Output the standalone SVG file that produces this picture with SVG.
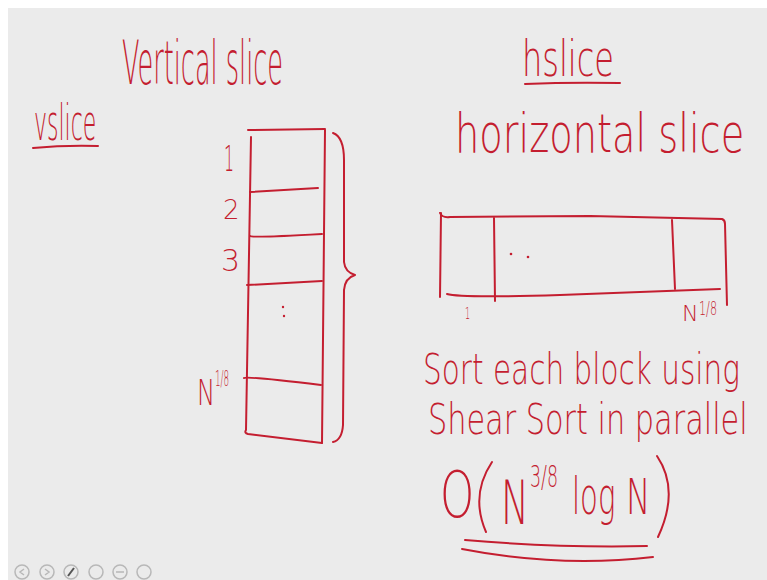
<svg xmlns="http://www.w3.org/2000/svg" width="767" height="580" viewBox="0 0 767 580">
<style>
.ink{fill:none;stroke:#c41e30;stroke-width:2;stroke-linecap:round;stroke-linejoin:round}
.t{font-family:"DejaVu Sans","Liberation Sans",sans-serif;fill:#c41e30;font-weight:300}
.ic{fill:none;stroke:#b8b8b8;stroke-width:1.5}
</style>
<rect x="0" y="0" width="767" height="580" fill="#ffffff"/>
<rect x="8" y="8" width="759" height="572" fill="#ebebeb"/>

<g id="title-vslice">
<text class="t" transform="translate(34,140) scale(0.44,1)" font-size="50">vslice</text>
<path class="ink" d="M33 148 Q65 145 98 146"/>
</g>
<g id="title-vertical">
<text class="t" transform="translate(122,84) scale(0.426,1)" font-size="60">Vertical slice</text>
</g>
<g id="title-hslice">
<text class="t" transform="translate(522,76) scale(0.64,1)" font-size="50">hslice</text>
<path class="ink" d="M525 84 Q570 82 620 83"/>
</g>
<g id="title-horizontal">
<text class="t" transform="translate(455,152) scale(0.71,1)" font-size="54">horizontal slice</text>
</g>

<g id="vertical-block">
<path class="ink" d="M248 130 L325 129"/>
<path class="ink" d="M251 137 L246 430 Q244 433 248 434 L322 443"/>
<path class="ink" d="M325 130 L322 443"/>
<path class="ink" d="M250 192 L318 188"/>
<path class="ink" d="M250 236 Q252 238 322 234"/>
<path class="ink" d="M247 285 L322 281"/>
<path class="ink" d="M244 378 Q246 376 321 385"/>
<circle cx="283" cy="307" r="1.2" fill="#c41e30"/>
<circle cx="284" cy="316" r="1.2" fill="#c41e30"/>
<text class="t" transform="translate(224,171) scale(0.44,1)" font-size="36">1</text>
<text class="t" x="223" y="219" font-size="26">2</text>
<text class="t" x="221" y="271" font-size="30">3</text>
<text class="t" transform="translate(197,405) scale(0.67,1)" font-size="36">N</text>
<text class="t" transform="translate(215,386) scale(0.4,1)" font-size="22">1/8</text>
<path class="ink" d="M333 133 Q344 137 344 160 L344 262 Q345 272 355 275 Q345 278 344 290 L343 425 Q342 440 333 442"/>
</g>

<g id="horizontal-block">
<path class="ink" d="M440 213 Q442 218 450 217 L590 216 L722 219 Q725 220 725 224 L727 305"/>
<path class="ink" d="M441 213 L440 297"/>
<path class="ink" d="M447 294 Q460 298 560 295 L720 289"/>
<path class="ink" d="M494 218 L495 301"/>
<path class="ink" d="M672 220 L675 289"/>
<circle cx="511" cy="254" r="1.3" fill="#c41e30"/>
<circle cx="528" cy="257" r="1.3" fill="#c41e30"/>
<text class="t" transform="translate(465,319) scale(0.5,1)" font-size="16">1</text>
<text class="t" x="682" y="321" font-size="22">N</text>
<text class="t" transform="translate(699,315) scale(0.56,1)" font-size="20">1/8</text>
</g>

<g id="note">
<text class="t" transform="translate(423,384) scale(0.703,1)" font-size="42">Sort each block using</text>
<text class="t" transform="translate(428,434) scale(0.722,1)" font-size="42">Shear Sort in parallel</text>
<text class="t" transform="translate(440,517) scale(0.68,1)" font-size="64">O</text>
<path class="ink" d="M492 462 Q470 495 486 532"/>
<text class="t" transform="translate(501,524) scale(0.62,1)" font-size="60">N</text>
<text class="t" transform="translate(530,487) scale(0.58,1)" font-size="30">3/8</text>
<text class="t" transform="translate(572,514) scale(0.56,1)" font-size="52">log</text>
<text class="t" transform="translate(626,514) scale(0.65,1)" font-size="50">N</text>
<path class="ink" d="M657 456 Q680 490 658 537"/>
<path class="ink" d="M465 540 Q560 548 647 546"/>
<path class="ink" d="M462 549 Q560 568 653 557"/>
</g>

<g id="toolbar">
<circle class="ic" cx="22" cy="572" r="7"/>
<circle class="ic" cx="47" cy="572" r="7"/>
<circle class="ic" cx="71" cy="572" r="7"/>
<circle class="ic" cx="96" cy="572" r="7"/>
<circle class="ic" cx="120" cy="572" r="7"/>
<circle class="ic" cx="144" cy="572" r="7"/>
<path class="ic" d="M24 569 L20 572 L24 575 M45 569 L49 572 L45 575 M116 572 L124 572"/>
<path d="M68 576 L74 568" stroke="#555" stroke-width="2"/>
</g>
</svg>
